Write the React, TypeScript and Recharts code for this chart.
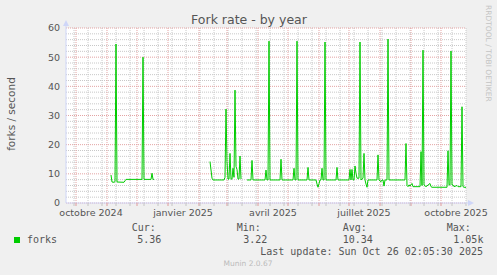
import { CartesianGrid, Line, LineChart, XAxis, YAxis } from "recharts";

// x = days since Sep 21 2024 (400-day window, 1px/day)
const labelDays = [25, 117, 207, 298, 390];
const labelNames = ["octobre 2024", "janvier 2025", "avril 2025", "juillet 2025", "octobre 2025"];
const monthStarts = [10, 41, 71, 102, 133, 161, 192, 222, 253, 283, 314, 345, 375];
const weekLines = [8, 22, 36, 50, 64, 78, 92, 106, 120, 134, 148, 162, 176, 190, 204, 218, 232, 246, 260, 274, 288, 302, 316, 330, 344, 358, 372, 386, 400];
const yMajor = [0, 10, 20, 30, 40, 50, 60];
const yMinor = [2, 4, 6, 8, 12, 14, 16, 18, 22, 24, 26, 28, 32, 34, 36, 38, 42, 44, 46, 48, 52, 54, 56, 58];

// [day, forks/s]
const autumn2024 = [
  [45, 9.6], [46, 7.2], [48, 7.1], [49, 7.3], [50, 54.5], [51, 7.2], [58, 7.1], [59, 7.6], [60, 8.1],
  [76, 8.1], [77, 50], [78, 8.1], [85, 8.1], [86, 10.2], [87, 8.1], [88, 8.1],
];
const winter2025 = [
  [144, 14.2], [146, 8.5], [147, 7.9], [158, 7.9], [159, 8.8], [160, 32.2], [161, 14.2], [162, 8.2],
  [163, 8.2], [164, 17], [165, 8.2], [166, 8.2], [167, 11.9], [168, 8.8], [169, 38.7], [170, 12.5],
  [171, 11.5], [172, 8.2], [173, 8.2], [174, 16.1], [175, 8.2],
];
const rest2025 = [
  [181, 7.9], [185, 7.9], [186, 14.6], [187, 7.9], [199, 7.9], [200, 11.3], [201, 7.9], [202, 7.9],
  [203, 55.5], [204, 7.9], [214, 7.9], [215, 15], [216, 7.9], [227, 7.9], [228, 11.9], [229, 7.9],
  [230, 7.9], [231, 55.5], [232, 7.9], [241, 7.9], [242, 12.2], [243, 7.9], [250, 7.9], [251, 6.5],
  [252, 5.4], [253, 6.6], [254, 7.9], [255, 7.9], [256, 11.9], [257, 7.9], [258, 7.9], [259, 55.2],
  [260, 7.9], [270, 7.9], [271, 12.2], [272, 7.9], [283, 7.9], [284, 11.5], [285, 7.9], [286, 11.5],
  [287, 7.9], [288, 7.9], [289, 12.7], [290, 10.2], [291, 8.5], [293, 8.5], [294, 55.2], [295, 7.9],
  [297, 8.5], [298, 17], [299, 7.9], [300, 6.5], [301, 5.4], [302, 7.9], [311, 7.9], [312, 16.5],
  [313, 7.9], [315, 7.3], [316, 7.9], [317, 7.9], [318, 5.8], [319, 7.9], [321, 7.9], [322, 56.2],
  [323, 7.9], [339, 7.9], [340, 20.4], [341, 6.0], [342, 5.6], [343, 6.2], [344, 5.8], [346, 6.7],
  [347, 5.6], [354, 5.6], [355, 17.6], [356, 6.0], [357, 52.4], [358, 6.2], [360, 5.6], [364, 6.7],
  [365, 5.6], [366, 5.4], [381, 5.4], [382, 17.9], [383, 6.2], [384, 6.2], [385, 52.1], [386, 6.2],
  [387, 6.2], [388, 5.6], [391, 6.0], [392, 5.6], [395, 5.6], [396, 33], [397, 5.6], [398, 5.4],
  [400, 5.36],
];

const toRows = (seg: number[][]) => seg.map(([day, v]) => ({ day, v }));
const data = [
  ...toRows(autumn2024),
  { day: 89, v: null },
  ...toRows(winter2025),
  { day: 176, v: null },
  ...toRows(rest2025),
];

const font = "DejaVu Sans, sans-serif";
const mono = "DejaVu Sans Mono, monospace";
const axisBlue = "#CFD6F8";
const green = "#00cc00";

function XTick(props: any) {
  const { x, y, payload } = props;
  const i = labelDays.indexOf(payload.value);
  if (i >= 0) {
    return (
      <text x={x} y={y} dy="0.71em" textAnchor="middle" fontSize={9.5} fill="#555" fontFamily={font}>
        {labelNames[i]}
      </text>
    );
  }
  const major = monthStarts.includes(payload.value);
  return <line x1={x} x2={x} y1={y - 6} y2={y - 3} stroke={major ? "#e09a9a" : "#c4c4c4"} />;
}

export default function App() {
  return (
    <div style={{ position: "absolute", left: 0, top: 0, width: 497, height: 275, background: "#f0f0f0" }}>
      <LineChart width={497} height={275} data={data} margin={{ top: 28, right: 31, bottom: 0, left: 0 }}>
        <CartesianGrid
          fill="#fff"
          stroke="#c8c8c8"
          strokeDasharray="1 1"
          horizontalValues={yMinor}
          verticalValues={weekLines}
        />
        <CartesianGrid
          stroke="#e3a3a3"
          strokeDasharray="1 1"
          horizontalValues={yMajor}
          verticalValues={monthStarts}
        />
        <XAxis
          dataKey="day"
          type="number"
          domain={[0, 400]}
          ticks={[...labelDays, ...monthStarts, ...weekLines]}
          interval={0}
          height={72}
          tickSize={4}
          tickMargin={2}
          tickLine={false}
          axisLine={{ stroke: axisBlue }}
          tick={<XTick />}
        />
        <YAxis
          domain={[0, 60]}
          ticks={yMajor}
          interval={0}
          width={66}
          tickSize={3}
          tickMargin={3}
          tickLine={false}
          axisLine={{ stroke: axisBlue }}
          tick={{ fontSize: 9.5, fill: "#555", fontFamily: font }}
        />
        <Line
          type="linear"
          dataKey="v"
          stroke={green}
          strokeWidth={1}
          dot={false}
          isAnimationActive={false}
        />
      </LineChart>
      <svg
        width={497}
        height={275}
        style={{ position: "absolute", left: 0, top: 0, pointerEvents: "none" }}
      >
        <line x1={66} x2={66} y1={28} y2={23} stroke={axisBlue} />
        <polygon points="63,26 69,26 66,20" fill={axisBlue} />
        <line x1={466} x2={469} y1={203} y2={203} stroke={axisBlue} />
        <polygon points="468,200 468,206 474,203" fill={axisBlue} />
        <text x={249} y={24} textAnchor="middle" fontSize={12.5} fill="#555" fontFamily={font}>
          Fork rate - by year
        </text>
        <text transform="rotate(-90)" x={-114} y={15} textAnchor="middle" fontSize={10.5} fill="#555" fontFamily={font}>
          forks / second
        </text>
        <text transform="rotate(90)" x={5} y={-486} fontSize={7.5} fill="#c4c4c4" fontFamily={font}>
          RRDTOOL / TOBI OETIKER
        </text>
        <rect x={14} y={237} width={6} height={6} fill={green} />
        <g fontFamily={mono} fontSize={10} fill="#555">
          <text x={27} y={243}>forks</text>
          <text x={131.7} y={231}>Cur:</text>
          <text x={236.7} y={231}>Min:</text>
          <text x={342.7} y={231}>Avg:</text>
          <text x={446.7} y={231}>Max:</text>
          <text x={137.3} y={243}>5.36</text>
          <text x={243.3} y={243}>3.22</text>
          <text x={342.7} y={243}>10.34</text>
          <text x={453.3} y={243}>1.05k</text>
          <text x={483} y={255} textAnchor="end">Last update: Sun Oct 26 02:05:30 2025</text>
        </g>
        <text x={248} y={266} textAnchor="middle" fontSize={7.5} fill="#bbb" fontFamily={font}>
          Munin 2.0.67
        </text>
      </svg>
    </div>
  );
}
